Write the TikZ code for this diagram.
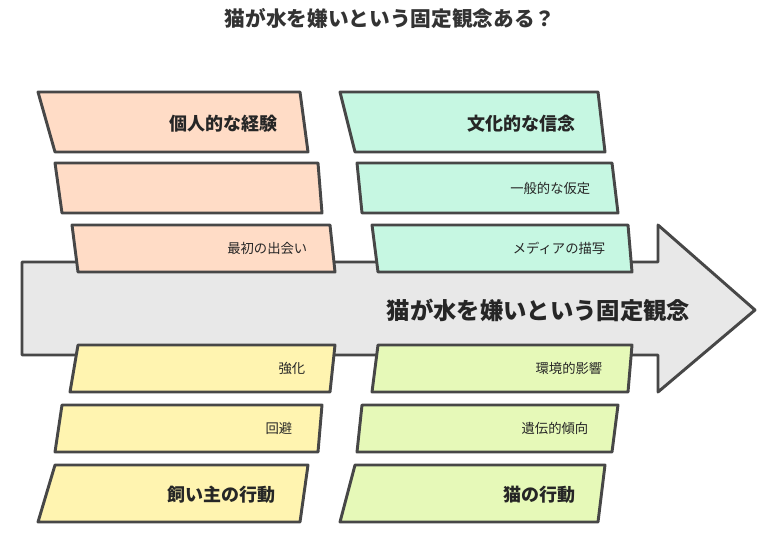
\documentclass[tikz,border=0pt]{standalone}
\usepackage{fontspec}
\setmainfont{Noto Sans CJK JP}
\begin{document}
\begin{tikzpicture}[x=0.75pt,y=-0.75pt,
  edge/.style={draw=black!72,line width=2.2pt,line join=round},
  lbl/.style={anchor=east,font=\fontsize{10}{12}\selectfont,text=black!85},
  blbl/.style={anchor=east,font=\bfseries\fontsize{13.5}{15}\selectfont,text=black!85}]
\definecolor{cor}{HTML}{FFDCC6}
\definecolor{cte}{HTML}{C6F7E2}
\definecolor{cye}{HTML}{FFF4B0}
\definecolor{cli}{HTML}{E6F9B8}
\useasboundingbox (0,0) rectangle (780,536);
\node[font=\bfseries\fontsize{15.5}{18}\selectfont,text=black!80] (title) at (390,18) {猫が水を嫌いという固定観念ある？};
% arrow
\path[edge,fill=black!9] (22,262) -- (658,262) -- (658,225) -- (755,310) -- (658,392) -- (658,355) -- (22,355) -- cycle;
\node[anchor=east,font=\bfseries\fontsize{17.5}{20}\selectfont,text=black!85] (main) at (695,310) {猫が水を嫌いという固定観念};
% top left
\path[edge,fill=cor] (38,92) -- (300,92) -- (308,152) -- (55,152) -- cycle;
\node[blbl] (a1) at (282,124) {個人的な経験};
\path[edge,fill=cor] (55,163) -- (318,163) -- (322,213) -- (62,213) -- cycle;
\path[edge,fill=cor] (72,225) -- (330,225) -- (335,272) -- (78,272) -- cycle;
\node[lbl] (a3) at (312,248) {最初の出会い};
% top right
\path[edge,fill=cte] (340,92) -- (598,92) -- (605,152) -- (355,152) -- cycle;
\node[blbl] (b1) at (580,124) {文化的な信念};
\path[edge,fill=cte] (357,163) -- (612,163) -- (618,213) -- (362,213) -- cycle;
\node[lbl] (b2) at (595,188) {一般的な仮定};
\path[edge,fill=cte] (372,225) -- (628,225) -- (632,272) -- (378,272) -- cycle;
\node[lbl] (b3) at (610,248) {メディアの描写};
% bottom left
\path[edge,fill=cye] (78,345) -- (335,345) -- (330,392) -- (70,392) -- cycle;
\node[lbl] (c1) at (310,368) {強化};
\path[edge,fill=cye] (62,405) -- (322,405) -- (318,452) -- (55,452) -- cycle;
\node[lbl] (c2) at (297,428) {回避};
\path[edge,fill=cye] (55,465) -- (308,465) -- (300,522) -- (38,522) -- cycle;
\node[blbl] (c3) at (280,495) {飼い主の行動};
% bottom right
\path[edge,fill=cli] (378,345) -- (632,345) -- (628,392) -- (372,392) -- cycle;
\node[lbl] (d1) at (607,368) {環境的影響};
\path[edge,fill=cli] (362,405) -- (618,405) -- (612,452) -- (357,452) -- cycle;
\node[lbl] (d2) at (593,428) {遺伝的傾向};
\path[edge,fill=cli] (355,465) -- (605,465) -- (598,522) -- (340,522) -- cycle;
\node[blbl] (d3) at (580,495) {猫の行動};
\end{tikzpicture}
\end{document}
